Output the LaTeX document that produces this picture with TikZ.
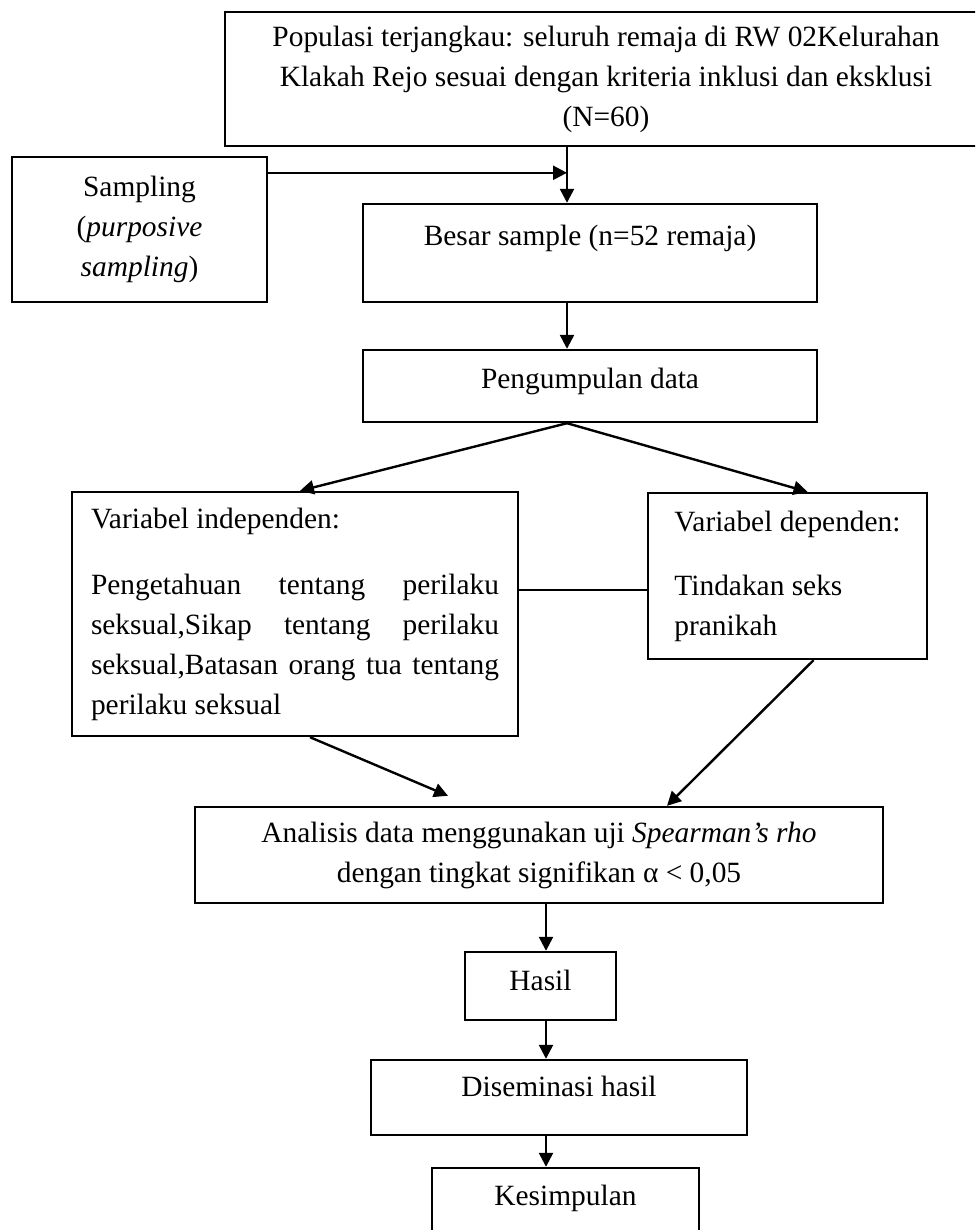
\documentclass[tikz,border=0pt]{standalone}
\usepackage{fontspec}
\setmainfont{Liberation Serif}
\usetikzlibrary{arrows.meta}
\setlength{\parindent}{0pt}
\tolerance=10000
\hyphenpenalty=10000

\begin{document}
\begin{tikzpicture}[x=0.5pt,y=-0.5pt,line width=1.2pt]

      \clip[use as bounding box] (0,0) rectangle (975,1230);

      \begin{scope}[every node/.style={rectangle,draw,inner sep=0pt,
          font=\fontsize{14.7}{20}\selectfont}]
        \node (populasi) at (606,79) [minimum width=381pt,minimum height=67pt,align=center]
          {Populasi terjangkau: seluruh remaja di RW 02Kelurahan\\
           Klakah Rejo sesuai dengan kriteria inklusi dan eksklusi\\
           (N=60)};
        \node (sampling) at (139.5,229.5) [minimum width=127.5pt,minimum height=72.5pt,align=center]
          {Sampling\\(\textit{purposive}\\\textit{sampling})};
        \node (besar) at (590,253) [minimum width=227pt,minimum height=49pt,text depth=18pt]
          {Besar sample (n=52 remaja)};
        \node (kumpul) at (590,386) [minimum width=227pt,minimum height=36pt,text depth=7.5pt]
          {Pengumpulan data};
        \node (indep) at (295,614) [minimum width=223pt,minimum height=122pt,text width=204pt,align=justify]
          {Variabel independen:\par\vspace{13pt}Pengetahuan tentang perilaku\linebreak
           seksual,Sikap tentang perilaku\linebreak
           seksual,Batasan orang tua tentang\linebreak
           perilaku seksual};
        \node (dep) at (787.5,576) [minimum width=139.5pt,minimum height=83pt,align=left]
          {Variabel dependen:\\[12pt]Tindakan seks\\pranikah};
        \node (analisis) at (539,855) [minimum width=344pt,minimum height=48pt,align=center]
          {Analisis data menggunakan uji \textit{Spearman's rho}\\
           dengan tingkat signifikan α < 0,05};
        \node (hasil) at (540.5,986) [minimum width=75.5pt,minimum height=34pt,text depth=5.5pt]
          {Hasil};
        \node (diseminasi) at (559,1097.5) [minimum width=188pt,minimum height=37.5pt,text depth=11pt]
          {Diseminasi hasil};
        \node (kesimpulan) at (565.5,1202) [minimum width=133.5pt,minimum height=34pt,text depth=6.5pt]
          {Kesimpulan};
      \end{scope}

      \coordinate (spine) at (567,0);
      \coordinate (trunk) at (546,0);
      \coordinate (s) at ([yshift=-8.5pt]sampling.north east);
      \coordinate (l) at ([yshift=12pt]indep.east);

      \begin{scope}[every edge/.style={draw,-{Triangle[length=7pt,width=7pt]}}]
        \path (populasi.south -| spine) edge (besar.north -| spine);
        \path (s)                       edge (s -| spine);
        \path (besar.south -| spine)    edge (kumpul.north -| spine);
        \path (kumpul.south -| spine)   edge ([xshift=2.5pt]indep.north);
        \path (kumpul.south -| spine)   edge ([xshift=10pt]dep.north);
        \path ([xshift=7.5pt]indep.south) edge ([xshift=-45.5pt,yshift=5pt]analisis.north);
        \path ([xshift=13pt]dep.south)  edge ([xshift=64pt]analisis.north);
        \path (analisis.south -| trunk) edge (hasil.north -| trunk);
        \path (hasil.south -| trunk)    edge (diseminasi.north -| trunk);
        \path (diseminasi.south -| trunk) edge (kesimpulan.north -| trunk);
      \end{scope}

      \draw (l) -- (l -| dep.west);

    \end{tikzpicture}
\end{document}
